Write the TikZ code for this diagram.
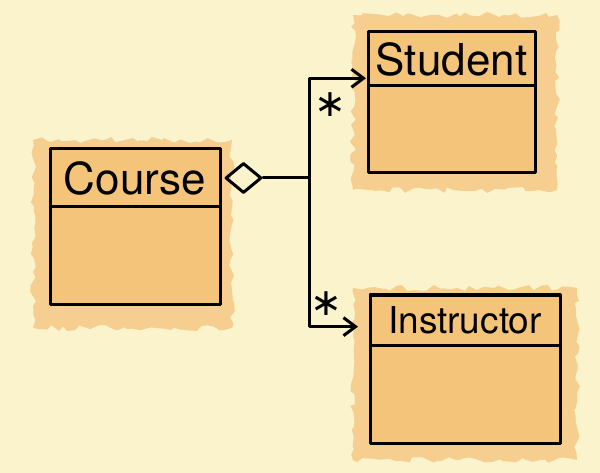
\documentclass[tikz,border=0pt]{standalone}
\usepackage{fontspec}
\setmainfont{TeX Gyre Heros}
\newfontfamily\starfont{DejaVu Sans}
\usetikzlibrary{positioning,shapes.geometric,arrows.meta,decorations.pathmorphing}
\definecolor{paper}{HTML}{FAF3CB}
\definecolor{boxfill}{HTML}{F4C47A}
\definecolor{glow}{HTML}{F6CE8F}

\begin{document}
\begin{tikzpicture}[x=1pt,y=-1pt,
    ink/.style={line width=3pt, line cap=round, line join=round},
    halo/.style={fill=glow, decorate, decoration={random steps, segment length=6pt, amplitude=3pt}},
    title/.style={ink, draw, fill=boxfill, inner sep=0pt, outer sep=0pt, font=\fontsize{44}{48}\selectfont},
    body/.style={ink, draw, fill=boxfill, inner sep=0pt, outer sep=0pt},
    many/.style={inner sep=0pt, font=\starfont\fontsize{38}{38}\selectfont},
    assoc/.style={ink, -{Straight Barb[length=12pt,width=18pt]}}]
    \useasboundingbox[fill=paper] (0,0) rectangle (600,473);
    \pgfmathsetseed{7}
    % glow behind the classes
    \path[halo] (33,140) rectangle (232,328);
    \path[halo] (353,15) rectangle (557,190);
    \path[halo] (353,288) rectangle (577,460);

    % classes
    \node[title, minimum width=170pt, minimum height=58pt, anchor=north west] (course) at (50,149) {Course};
    \node[body, minimum width=170pt, minimum height=97pt, below=0pt of course] (coursebody) {};

    \node[title, minimum width=167pt, minimum height=54pt, anchor=north west] (student) at (368,32) {Student};
    \node[body, minimum width=167pt, minimum height=87pt, below=0pt of student] (studentbody) {};

    \node[title, minimum width=190pt, minimum height=50pt, anchor=north west, font=\fontsize{37}{40}\selectfont] (instructor) at (370,295) {Instructor};
    \node[body, minimum width=190pt, minimum height=98pt, below=0pt of instructor] (instructorbody) {};

    % aggregation
    \node[ink, draw, diamond, minimum width=36pt, minimum height=30pt, inner sep=0pt, right=4pt of course] (agg) {};
    \coordinate[right=46pt of agg.east] (fork);
    \draw[ink] (agg.east) -- (fork);
    \draw[assoc, shorten >=2pt] (fork) |- node[many, pos=0.37, right=4pt] {∗} (student.193);
    \draw[assoc, shorten >=12pt] (fork) |- node[many, pos=0.5, above right=10pt and 0pt] {∗} (instructor.184);
\end{tikzpicture}
\end{document}
